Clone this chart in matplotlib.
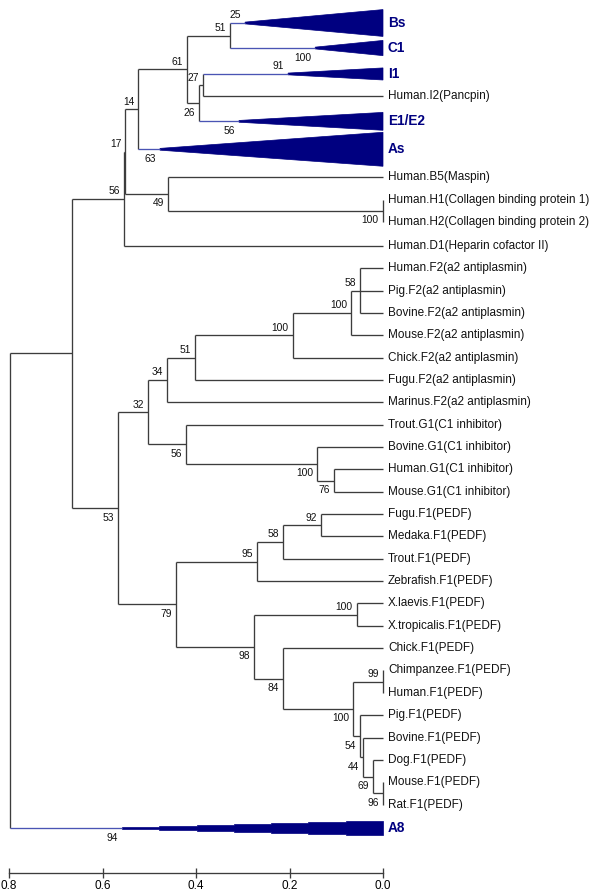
import numpy as np
import matplotlib
matplotlib.use("Agg")
import matplotlib.pyplot as plt
from matplotlib.patches import Polygon

# ---------------- data ----------------
leaf_names = [
    "Bs", "C1", "I1", "Human.I2(Pancpin)", "E1/E2", "As",
    "Human.B5(Maspin)", "Human.H1(Collagen binding protein 1)",
    "Human.H2(Collagen binding protein 2)", "Human.D1(Heparin cofactor II)",
    "Human.F2(a2 antiplasmin)", "Pig.F2(a2 antiplasmin)", "Bovine.F2(a2 antiplasmin)",
    "Mouse.F2(a2 antiplasmin)", "Chick.F2(a2 antiplasmin)", "Fugu.F2(a2 antiplasmin)",
    "Marinus.F2(a2 antiplasmin)", "Trout.G1(C1 inhibitor)", "Bovine.G1(C1 inhibitor)",
    "Human.G1(C1 inhibitor)", "Mouse.G1(C1 inhibitor)", "Fugu.F1(PEDF)",
    "Medaka.F1(PEDF)", "Trout.F1(PEDF)", "Zebrafish.F1(PEDF)", "X.laevis.F1(PEDF)",
    "X.tropicalis.F1(PEDF)", "Chick.F1(PEDF)", "Chimpanzee.F1(PEDF)", "Human.F1(PEDF)",
    "Pig.F1(PEDF)", "Bovine.F1(PEDF)", "Dog.F1(PEDF)", "Mouse.F1(PEDF)", "Rat.F1(PEDF)",
    "A8",
]

# collapsed sub-trees: apex height (distance) and bootstrap
clade_names = ["Bs", "C1", "I1", "E1/E2", "As", "A8"]
clade_apex = [0.295, 0.145, 0.203, 0.308, 0.477, 0.558]
clade_support = [25, 100, 91, 56, 63, 94]

# internal nodes (children listed before parents): name, children, height, bootstrap
node_names = ["nBsC1", "nI", "nIE", "n61", "n14", "nH", "n49", "n17", "n56a",
              "nF58", "nF100b", "nF100", "nF51", "n34", "nG76", "nG100", "nG56", "n32",
              "n92", "nP58", "n95", "nX", "n99", "n96", "n69", "n44", "n54", "nM100",
              "n84", "n98", "n79", "n53", "nTop", "root"]
node_children = [
    ("Bs", "C1"), ("I1", "Human.I2(Pancpin)"), ("nI", "E1/E2"), ("nBsC1", "nIE"),
    ("n61", "As"),
    ("Human.H1(Collagen binding protein 1)", "Human.H2(Collagen binding protein 2)"),
    ("Human.B5(Maspin)", "nH"), ("n14", "n49"), ("n17", "Human.D1(Heparin cofactor II)"),
    ("Human.F2(a2 antiplasmin)", "Pig.F2(a2 antiplasmin)", "Bovine.F2(a2 antiplasmin)"),
    ("nF58", "Mouse.F2(a2 antiplasmin)"), ("nF100b", "Chick.F2(a2 antiplasmin)"),
    ("nF100", "Fugu.F2(a2 antiplasmin)"), ("nF51", "Marinus.F2(a2 antiplasmin)"),
    ("Human.G1(C1 inhibitor)", "Mouse.G1(C1 inhibitor)"),
    ("Bovine.G1(C1 inhibitor)", "nG76"), ("Trout.G1(C1 inhibitor)", "nG100"),
    ("n34", "nG56"),
    ("Fugu.F1(PEDF)", "Medaka.F1(PEDF)"), ("n92", "Trout.F1(PEDF)"),
    ("nP58", "Zebrafish.F1(PEDF)"), ("X.laevis.F1(PEDF)", "X.tropicalis.F1(PEDF)"),
    ("Chimpanzee.F1(PEDF)", "Human.F1(PEDF)"), ("Mouse.F1(PEDF)", "Rat.F1(PEDF)"),
    ("Dog.F1(PEDF)", "n96"), ("Bovine.F1(PEDF)", "n69"), ("Pig.F1(PEDF)", "n44"),
    ("n99", "n54"), ("Chick.F1(PEDF)", "nM100"), ("nX", "n84"), ("n95", "n98"),
    ("n32", "n79"), ("n56a", "n53"), ("nTop", "A8"),
]
node_heights = [0.327, 0.385, 0.394, 0.419, 0.524, 0.001, 0.460, 0.551, 0.554,
                0.049, 0.068, 0.193, 0.402, 0.462, 0.105, 0.141, 0.421, 0.503,
                0.133, 0.214, 0.270, 0.056, 0.001, 0.001, 0.021, 0.043, 0.049, 0.064,
                0.214, 0.276, 0.443, 0.567, 0.665, 0.798]
node_support = [51, 27, 26, 61, 14, 100, 49, 17, 56,
                58, 100, 100, 51, 34, 76, 100, 56, 32,
                92, 58, 95, 100, 99, 96, 69, 44, 54, 100,
                84, 98, 79, 53, None, None]

scale_ticks = [0.8, 0.6, 0.4, 0.2, 0.0]

# ---------------- layout / style ----------------
ROW = 22.35  # px per row
row_gap = {"C1": 1.12, "I1": 1.16, "E1/E2": 1.12, "As": 1.25, "Human.B5(Maspin)": 1.25,
           "Human.D1(Heparin cofactor II)": 1.07, "A8": 1.05}
tri_half = {"Bs": 0.60, "C1": 0.34, "I1": 0.27, "E1/E2": 0.40, "As": 0.76}
BLACK = "#3c3c3c"
BLUE_LINE = "#4a54b4"
NAVY = "#000080"
LW = 0.95
PX = 1.0 / 467.5   # distance units per pixel
PY = 1.0 / ROW     # rows per pixel

fig = plt.figure(figsize=(6.0, 8.92), dpi=100)
ax = fig.add_axes([0, 0, 1, 1])
x_left = 383 / 467.5
x_right = (383 - 600) / 467.5
ax.set_xlim(x_left, x_right)
y_top = -23 / ROW
y_bot = (892 - 23) / ROW
ax.set_ylim(y_bot, y_top)
for s in ["top", "left", "right"]:
    ax.spines[s].set_visible(False)
ax.set_yticks([])

# leaf positions
ypos = {}
y = 0.0
for i, nm in enumerate(leaf_names):
    if i > 0:
        y += row_gap.get(nm, 1.0)
    ypos[nm] = y
hpos = {nm: 0.0 for nm in leaf_names}
clade_info = {}
for nm, ap, sp in zip(clade_names, clade_apex, clade_support):
    hpos[nm] = ap
    clade_info[nm] = sp

support = {}
for nm, ch, h, sp in zip(node_names, node_children, node_heights, node_support):
    ys = [ypos[c] for c in ch]
    ypos[nm] = (min(ys) + max(ys)) / 2
    hpos[nm] = h
    support[nm] = sp
for nm, sp in clade_info.items():
    support[nm] = sp

# draw tree
label_pos = {}
for nm, ch, h in zip(node_names, node_children, node_heights):
    ys = [ypos[c] for c in ch]
    ax.plot([h, h], [min(ys), max(ys)], color=BLACK, lw=LW, solid_capstyle="butt")
    for k, c in enumerate(ch):
        col = BLUE_LINE if c in clade_info else BLACK
        ax.plot([h, hpos[c]], [ypos[c], ypos[c]], color=col, lw=LW, solid_capstyle="butt")
        if k == 0:
            label_pos[c] = "above"
        elif k == len(ch) - 1:
            label_pos[c] = "below"

# collapsed clades as triangles
for nm in clade_names:
    ap = hpos[nm]
    yc = ypos[nm]
    if nm == "A8":
        nsteps = 7
        edges = np.linspace(ap, 0.0, nsteps + 1)
        halfs = np.linspace(0.8, 7.0, nsteps) * PY
        pts_top, pts_bot = [], []
        for j in range(nsteps):
            pts_top += [(edges[j], yc - halfs[j]), (edges[j + 1], yc - halfs[j])]
            pts_bot += [(edges[j], yc + halfs[j]), (edges[j + 1], yc + halfs[j])]
        pts = pts_top + pts_bot[::-1]
    else:
        hh = tri_half[nm]
        pts = [(ap, yc - 0.04), (0.0, yc - hh), (0.0, yc + hh), (ap, yc + 0.04)]
    ax.add_patch(Polygon(pts, closed=True, facecolor=NAVY, edgecolor=NAVY, lw=0.5))

# leaf labels
for nm in leaf_names:
    if nm in clade_info:
        ax.text(-5 * PX, ypos[nm], nm, color=NAVY, fontsize=9.8, fontweight="bold",
                family="Liberation Sans", va="center", ha="left")
    else:
        ax.plot([0.0, 0.0], [ypos[nm], ypos[nm]], color=BLACK, lw=LW)
        ax.text(-5 * PX, ypos[nm], nm, color="#111111", fontsize=8.5,
                family="Liberation Sans", va="center", ha="left")

# bootstrap labels
for nm, sp in support.items():
    if sp is None or nm not in label_pos:
        continue
    dy = -7.5 * PY if label_pos[nm] == "above" else 9.5 * PY
    ax.text(hpos[nm] + 4 * PX, ypos[nm] + dy, str(sp), fontsize=7.4,
            family="Liberation Sans", color="#111111", ha="right", va="center")

# scale bar
axis_row = (873 - 23) / ROW
ax.spines["bottom"].set_position(("data", axis_row))
ax.spines["bottom"].set_bounds(0.8, 0.0)
ax.spines["bottom"].set_color(BLACK)
ax.spines["bottom"].set_linewidth(LW)
ax.set_xticks(scale_ticks)
ax.set_xticklabels([f"{t:.1f}" for t in scale_ticks], fontsize=8.5, family="Liberation Sans")
ax.tick_params(axis="x", direction="inout", length=7, width=LW, color=BLACK, pad=1.5)

fig.savefig("out.png", dpi=100)
